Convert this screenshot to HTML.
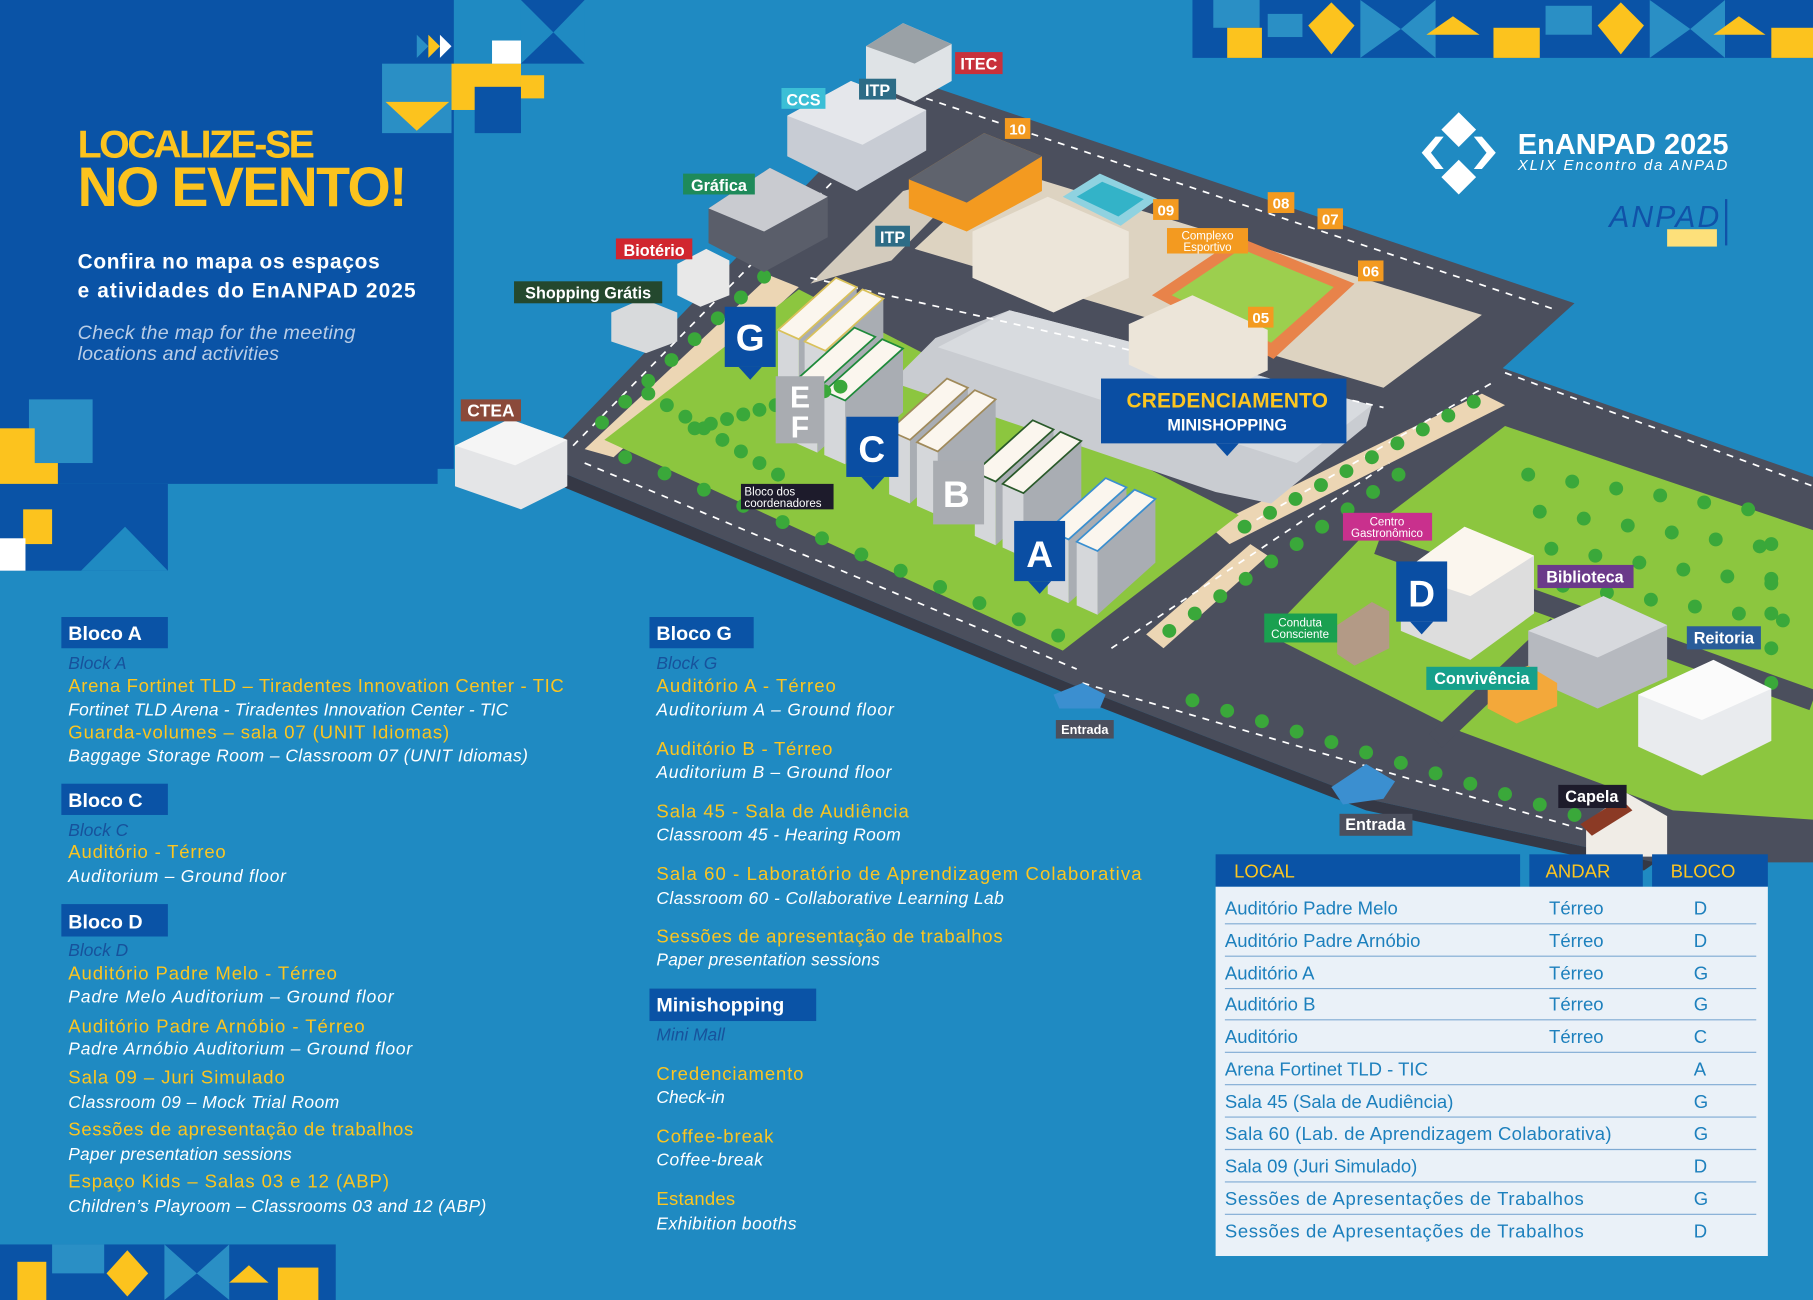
<!DOCTYPE html>
<html><head><meta charset="utf-8"><style>
html,body{margin:0;padding:0;background:#1f8ac2;overflow:hidden}
svg{display:block}
text{font-family:"Liberation Sans",sans-serif}
.y{fill:#fcc520;font-size:16px}
.w{fill:#fff;font-size:15px;font-style:italic}
.b{fill:#17529c;font-size:15px;font-style:italic}
.h{fill:#fff;font-size:17px;font-weight:bold}
.lb{fill:#fff;font-weight:bold}
.t{fill:#1d80bd;font-size:16px}
</style></head><body>
<svg id="s" width="1813" height="1300" viewBox="0 0 1566 1123" preserveAspectRatio="none" xmlns="http://www.w3.org/2000/svg">
<rect width="1566" height="1123" fill="#1f8ac2"/>
<polygon points="0,0 392,0 392,405 378,405 378,418 0,418" fill="#0a53a6"/>
<g>
<rect x="450" y="0" width="55" height="55" fill="#1f8ac2"/>
<polygon points="450,0 505,0 478,28" fill="#0a53a6"/>
<polygon points="478,28 505,55 450,55" fill="#0a53a6"/>
<rect x="330" y="55" width="60" height="60" fill="#2a8fc5"/>
<polygon points="333,88 388,88 360,113" fill="#fcc31e"/>
<rect x="390" y="55" width="60" height="40" fill="#fcc31e"/>
<rect x="410" y="75" width="40" height="40" fill="#0a53a6"/>
<rect x="425" y="35" width="25" height="20" fill="#fff"/>
<rect x="450" y="65" width="20" height="20" fill="#fcc31e"/>
<polygon points="360,30 370,40 360,50" fill="#2a8fc5"/><polygon points="370,30 380,40 370,50" fill="#fcc31e"/><polygon points="380,30 390,40 380,50" fill="#fff"/>
</g>
<g>
<rect x="25" y="345" width="55" height="55" fill="#2a8fc5"/>
<rect x="0" y="370" width="30" height="50" fill="#fcc31e"/>
<rect x="0" y="400" width="50" height="20" fill="#fcc31e"/>
<rect x="0" y="418" width="145" height="75" fill="#0a53a6"/>
<rect x="20" y="440" width="25" height="30" fill="#fcc31e"/>
<rect x="0" y="465" width="22" height="28" fill="#fff"/>
<polygon points="70,493 108,455 145,493" fill="#1f8ac2"/>
</g>
<g>
<rect x="1030" y="0" width="536" height="50" fill="#0a53a6"/>
<rect x="1048" y="0" width="40" height="24" fill="#2a8fc5"/>
<rect x="1060" y="24" width="30" height="26" fill="#fcc31e"/>
<rect x="1095" y="12" width="30" height="20" fill="#2a8fc5"/>
<polygon points="1130,22 1150,2 1170,22 1150,47" fill="#fcc31e"/>
<polygon points="1175,0 1210,25 1175,50" fill="#2a8fc5"/><polygon points="1240,0 1210,25 1240,50" fill="#2a8fc5"/>
<polygon points="1232,30 1255,14 1278,30" fill="#fcc31e"/>
<rect x="1290" y="24" width="40" height="26" fill="#fcc31e"/>
<rect x="1335" y="5" width="40" height="25" fill="#2a8fc5"/>
<polygon points="1380,22 1400,2 1420,22 1400,47" fill="#fcc31e"/>
<polygon points="1425,0 1460,25 1425,50" fill="#2a8fc5"/><polygon points="1490,0 1460,25 1490,50" fill="#2a8fc5"/>
<polygon points="1480,30 1502,14 1525,30" fill="#fcc31e"/>
<rect x="1530" y="24" width="36" height="26" fill="#fcc31e"/>
</g>
<g>
<rect x="0" y="1075" width="290" height="48" fill="#0a53a6"/>
<rect x="15" y="1090" width="25" height="33" fill="#fcc31e"/>
<rect x="45" y="1075" width="45" height="25" fill="#2a8fc5"/>
<polygon points="92,1100 110,1080 128,1100 110,1120" fill="#fcc31e"/>
<polygon points="142,1075 170,1100 142,1123" fill="#2a8fc5"/><polygon points="198,1075 170,1100 198,1123" fill="#2a8fc5"/>
<polygon points="198,1108 215,1093 232,1108" fill="#fcc31e"/>
<rect x="240" y="1095" width="35" height="28" fill="#fcc31e"/>
</g>

<g>
<polygon points="470,395 785,68 1360,262 1298,318 1566,412 1566,745 1430,745 1180,690 935,595 490,410" fill="#4b4f5d"/>
<polygon points="490,410 935,595 1180,690 1430,745 1420,752 1180,700 935,605 480,418" fill="#353845"/>
<polygon points="505,388 665,238 690,248 530,395" fill="#ecd6b4"/>
<polygon points="1045,455 1280,340 1300,350 1062,470" fill="#ecd6b4"/>
<polygon points="990,548 1080,470 1095,480 1005,560" fill="#ecd6b4"/>
<polygon points="522,380 690,250 1070,445 918,562" fill="#8cc63f"/>
<polygon points="790,215 865,145 1280,272 1195,335" fill="#ddd3c1"/>
<polygon points="700,245 780,165 845,148 770,225" fill="#d3cbbd"/>
<polygon points="995,255 1070,205 1170,245 1100,310" fill="#e8834a"/>
<polygon points="1012,255 1072,215 1152,248 1098,296" fill="#9ccf4e"/>
<polygon points="918,170 950,150 1000,172 968,195" fill="#8fd2e0"/>
<polygon points="930,170 952,157 988,172 966,187" fill="#33b3c8"/>
<polygon points="808,292 872,268 1185,350 1180,368 1098,435 1050,425 770,330" fill="#c9ccd1"/>
<polygon points="872,268 1185,350 1120,400 810,300" fill="#d8dbdf"/>
<polygon points="1095,548 1185,455 1300,368 1566,458 1566,708 1445,700 1262,632" fill="#8cc63f"/>
<line x1="1190" y1="470" x2="1566" y2="605" stroke="#4b4f5d" stroke-width="18"/>
<line x1="1240" y1="640" x2="1345" y2="540" stroke="#4b4f5d" stroke-width="16"/>
<g stroke="#fff" stroke-width="1.5" stroke-dasharray="6,6" fill="none">
<line x1="505" y1="400" x2="930" y2="578"/>
<line x1="935" y1="590" x2="1430" y2="735"/>
<line x1="495" y1="385" x2="790" y2="85"/>
<line x1="800" y1="85" x2="1345" y2="268"/>
<line x1="700" y1="240" x2="1195" y2="352"/>
<line x1="1075" y1="455" x2="1290" y2="330"/>
<line x1="960" y1="560" x2="1200" y2="400"/>
<line x1="1300" y1="322" x2="1566" y2="420"/>
</g>
</g>
<g id="bld"></g>
<g id="trees"></g>
<g>
<polygon points="393,385 440,362 490,380 490,420 450,440 393,420" fill="#e4e5e7"/><polygon points="393,385 440,362 490,380 445,402" fill="#f5f5f5"/>
<polygon points="748,40 780,20 822,38 822,70 790,88 748,70" fill="#dfe3e6"/><polygon points="748,40 780,20 822,38 790,55" fill="#9aa1a6"/>
<polygon points="680,100 735,70 800,95 800,130 740,165 680,135" fill="#c8ccd4"/><polygon points="680,100 735,70 800,95 745,125" fill="#e5e7eb"/>
<polygon points="612,180 665,145 715,170 715,205 660,235 612,210" fill="#5a5e6a"/><polygon points="612,180 665,145 715,170 660,200" fill="#c9cbd0"/>
<polygon points="585,228 610,215 630,225 630,255 605,265 585,255" fill="#e8e8e8"/>
<polygon points="528,270 555,258 585,270 585,295 558,305 528,295" fill="#d8dadc"/>
<polygon points="785,155 850,115 900,135 900,165 835,200 785,180" fill="#f39a20"/><polygon points="785,155 850,115 900,135 835,175" fill="#5f636d"/>
<polygon points="840,200 905,170 975,200 975,240 910,270 840,240" fill="#ece5d9"/>
<polygon points="975,280 1030,255 1095,285 1095,320 1040,345 975,315" fill="#ece5d9"/>
<polygon points="1320,545 1385,515 1440,540 1440,585 1380,612 1320,585" fill="#b6b9bf"/><polygon points="1320,545 1385,515 1440,540 1380,568" fill="#d7d9dd"/>
<polygon points="1415,600 1480,570 1530,595 1530,640 1470,670 1415,645" fill="#e9ebee"/><polygon points="1415,600 1480,570 1530,595 1470,622" fill="#fbfbfb"/>
<polygon points="1210,495 1265,455 1325,480 1325,530 1270,570 1210,545" fill="#ddd"/><polygon points="1210,495 1265,455 1325,480 1270,515" fill="#fbf6ee"/>
<polygon points="1155,540 1185,520 1200,528 1200,560 1170,575 1155,565" fill="#b39a86"/>
<polygon points="1285,590 1320,575 1345,590 1345,610 1310,625 1285,612" fill="#f3a83a"/>
<polygon points="1370,710 1405,685 1440,705 1440,740 1370,740" fill="#f0ece6"/><polygon points="1365,712 1400,690 1410,700 1375,722" fill="#8b3a25"/>
<polygon points="910,600 935,590 955,600 950,612 915,612" fill="#3b8fd0"/>
<polygon points="1150,680 1180,660 1205,675 1195,690 1160,695" fill="#3b8fd0"/>
</g>
<g font-size="14">
<rect x="825" y="45" width="41" height="19" fill="#c8313b"/><text x="845.5" y="60" class="lb" text-anchor="middle">ITEC</text>
<rect x="742" y="68" width="32" height="18" fill="#2d6c86"/><text x="758" y="83" class="lb" text-anchor="middle">ITP</text>
<rect x="675" y="76" width="38" height="18" fill="#3bbfd6"/><text x="694" y="91" class="lb" text-anchor="middle">CCS</text>
<rect x="868" y="102" width="22" height="18" fill="#f39a20"/><text x="879" y="116" class="lb" text-anchor="middle" font-size="13">10</text>
<rect x="590" y="150" width="62" height="18" fill="#1e8a5a"/><text x="621" y="165" class="lb" text-anchor="middle">Gráfica</text>
<rect x="996" y="172" width="22" height="18" fill="#f39a20"/><text x="1007" y="186" class="lb" text-anchor="middle" font-size="13">09</text>
<rect x="1095" y="166" width="23" height="18" fill="#f39a20"/><text x="1106.5" y="180" class="lb" text-anchor="middle" font-size="13">08</text>
<rect x="1138" y="180" width="22" height="18" fill="#f39a20"/><text x="1149" y="194" class="lb" text-anchor="middle" font-size="13">07</text>
<rect x="1173" y="225" width="22" height="18" fill="#f39a20"/><text x="1184" y="239" class="lb" text-anchor="middle" font-size="13">06</text>
<rect x="1078" y="265" width="22" height="18" fill="#f39a20"/><text x="1089" y="279" class="lb" text-anchor="middle" font-size="13">05</text>
<rect x="1008" y="197" width="70" height="22" fill="#f39a20"/><text x="1043" y="207" fill="#fff" font-size="10" text-anchor="middle">Complexo</text><text x="1043" y="217" fill="#fff" font-size="10" text-anchor="middle">Esportivo</text>
<rect x="532" y="206" width="66" height="18" fill="#d1262f"/><text x="565" y="221" class="lb" text-anchor="middle">Biotério</text>
<rect x="756" y="195" width="30" height="18" fill="#2d6c86"/><text x="771" y="210" class="lb" text-anchor="middle">ITP</text>
<rect x="444" y="243" width="128" height="19" fill="#24482e"/><text x="508" y="258" class="lb" text-anchor="middle">Shopping Grátis</text>
<rect x="398" y="345" width="52" height="19" fill="#8b4a3a"/><text x="424" y="360" class="lb" text-anchor="middle" font-size="15">CTEA</text>
<g fill="#0a4ea3"><rect x="626" y="265" width="44" height="52"/><polygon points="638,317 658,317 648,328"/></g><text x="648" y="303" class="lb" font-size="32" text-anchor="middle">G</text>
<g fill="#a9acb1"><rect x="670" y="325" width="42" height="58"/></g><text x="691" y="352" class="lb" font-size="26" text-anchor="middle">E</text><text x="691" y="378" class="lb" font-size="26" text-anchor="middle">F</text>
<g fill="#0a4ea3"><rect x="731" y="360" width="45" height="52"/><polygon points="744,412 764,412 754,423"/></g><text x="753" y="399" class="lb" font-size="32" text-anchor="middle">C</text>
<g fill="#a9acb1"><rect x="806" y="398" width="44" height="55"/></g><text x="826" y="438" class="lb" font-size="32" text-anchor="middle">B</text>
<g fill="#0a4ea3"><rect x="876" y="450" width="44" height="52"/><polygon points="888,502 908,502 898,513"/></g><text x="898" y="490" class="lb" font-size="32" text-anchor="middle">A</text>
<g fill="#0a4ea3"><rect x="1206" y="485" width="44" height="52"/><polygon points="1218,537 1238,537 1228,548"/></g><text x="1228" y="524" class="lb" font-size="32" text-anchor="middle">D</text>
<rect x="640" y="418" width="80" height="22" fill="#1d1b2b"/><text x="643" y="428" fill="#fff" font-size="10">Bloco dos</text><text x="643" y="438" fill="#fff" font-size="10">coordenadores</text>
<rect x="951" y="327" width="212" height="56" fill="#0a4ea3"/><polygon points="1050,383 1070,383 1060,394" fill="#0a4ea3"/>
<text x="1060" y="352" fill="#fcc520" font-size="18" font-weight="bold" text-anchor="middle" textLength="174">CREDENCIAMENTO</text>
<text x="1060" y="372" fill="#fff" font-size="14" font-weight="bold" text-anchor="middle">MINISHOPPING</text>
<rect x="1160" y="443" width="77" height="24" fill="#c9308d"/><text x="1198" y="454" fill="#fff" font-size="10" text-anchor="middle">Centro</text><text x="1198" y="464" fill="#fff" font-size="10" text-anchor="middle">Gastronômico</text>
<rect x="1328" y="488" width="83" height="20" fill="#6b3a8a"/><text x="1369" y="503" class="lb" text-anchor="middle">Biblioteca</text>
<rect x="1092" y="530" width="63" height="25" fill="#1aa050"/><text x="1123" y="541" fill="#fff" font-size="10" text-anchor="middle">Conduta</text><text x="1123" y="551" fill="#fff" font-size="10" text-anchor="middle">Consciente</text>
<rect x="1457" y="541" width="64" height="20" fill="#2a5d9a"/><text x="1489" y="556" class="lb" text-anchor="middle">Reitoria</text>
<rect x="1232" y="576" width="96" height="20" fill="#16a08a"/><text x="1280" y="591" class="lb" text-anchor="middle">Convivência</text>
<rect x="912" y="622" width="50" height="16" fill="#4b4f5d"/><text x="937" y="634" class="lb" font-size="11" text-anchor="middle">Entrada</text>
<rect x="1157" y="703" width="63" height="19" fill="#4b4f5d"/><text x="1188" y="717" class="lb" text-anchor="middle">Entrada</text>
<rect x="1346" y="678" width="59" height="20" fill="#1d1b2b"/><text x="1375" y="693" class="lb" text-anchor="middle">Capela</text>
</g>

<g fill="#fff">
<polygon points="1260,97 1275,112 1260,127 1245,112"/>
<polygon points="1260,138 1275,153 1260,168 1245,153"/>
<polygon points="1240,118 1228,132 1240,146 1247,146 1236,132 1247,118"/>
<polygon points="1280,118 1292,132 1280,146 1273,146 1284,132 1273,118"/>
</g>
<text x="1311" y="133" fill="#fff" font-size="25" font-weight="bold" textLength="182">EnANPAD 2025</text>
<text x="1311" y="147" fill="#fff" font-size="13" font-style="italic" textLength="181">XLIX Encontro da ANPAD</text>
<text x="1390" y="196" fill="#1052a8" font-size="26" font-style="italic" textLength="95">ANPAD</text>
<rect x="1440" y="198" width="43" height="15" fill="#fde07a"/>
<rect x="1490" y="172" width="2" height="40" fill="#1052a8"/>

<text x="67" y="136" fill="#fcc31e" font-size="34" font-weight="bold" textLength="205">LOCALIZE-SE</text>
<text x="67" y="178" fill="#fcc31e" font-size="48" font-weight="bold" textLength="285">NO EVENTO!</text>
<text x="67" y="232" fill="#fff" font-size="18" font-weight="bold" textLength="261">Confira no mapa os espaços</text>
<text x="67" y="257" fill="#fff" font-size="18" font-weight="bold" textLength="292">e atividades do EnANPAD 2025</text>
<text x="67" y="293" fill="#b9cde6" font-size="17" font-style="italic" textLength="240">Check the map for the meeting</text>
<text x="67" y="311" fill="#b9cde6" font-size="17" font-style="italic" textLength="174">locations and activities</text>

<rect x="53" y="533" width="92" height="27" fill="#0a53a6"/><text x="59" y="553" class="h">Bloco A</text>
<text x="59" y="578" class="b">Block A</text>
<text x="59" y="598" class="y" textLength="428">Arena Fortinet TLD – Tiradentes Innovation Center - TIC</text>
<text x="59" y="618" class="w" textLength="380">Fortinet TLD Arena - Tiradentes Innovation Center - TIC</text>
<text x="59" y="638" class="y" textLength="329">Guarda-volumes – sala 07 (UNIT Idiomas)</text>
<text x="59" y="658" class="w" textLength="397">Baggage Storage Room – Classroom 07 (UNIT Idiomas)</text>
<rect x="53" y="677" width="92" height="27" fill="#0a53a6"/><text x="59" y="697" class="h">Bloco C</text>
<text x="59" y="722" class="b">Block C</text>
<text x="59" y="741" class="y" textLength="136">Auditório - Térreo</text>
<text x="59" y="762" class="w" textLength="188">Auditorium – Ground floor</text>
<rect x="53" y="781" width="92" height="28" fill="#0a53a6"/><text x="59" y="802" class="h">Bloco D</text>
<text x="59" y="826" class="b">Block D</text>
<text x="59" y="846" class="y" textLength="232">Auditório Padre Melo - Térreo</text>
<text x="59" y="866" class="w" textLength="281">Padre Melo Auditorium  – Ground floor</text>
<text x="59" y="892" class="y" textLength="256">Auditório Padre Arnóbio - Térreo</text>
<text x="59" y="911" class="w" textLength="297">Padre Arnóbio Auditorium – Ground floor</text>
<text x="59" y="936" class="y" textLength="187">Sala 09  – Juri Simulado</text>
<text x="59" y="957" class="w" textLength="234">Classroom 09 – Mock Trial Room</text>
<text x="59" y="981" class="y" textLength="298">Sessões de apresentação de trabalhos</text>
<text x="59" y="1002" class="w" textLength="193">Paper presentation sessions</text>
<text x="59" y="1026" class="y" textLength="277">Espaço Kids –  Salas 03 e 12 (ABP)</text>
<text x="59" y="1047" class="w" textLength="361">Children’s Playroom – Classrooms 03 and 12 (ABP)</text>

<rect x="561" y="533" width="90" height="27" fill="#0a53a6"/><text x="567" y="553" class="h">Bloco G</text>
<text x="567" y="578" class="b">Block G</text>
<text x="567" y="598" class="y" textLength="155">Auditório A - Térreo</text>
<text x="567" y="618" class="w" textLength="205">Auditorium A – Ground floor</text>
<text x="567" y="652" class="y" textLength="152">Auditório B - Térreo</text>
<text x="567" y="672" class="w" textLength="203">Auditorium B – Ground floor</text>
<text x="567" y="706" class="y" textLength="218">Sala 45 - Sala de Audiência</text>
<text x="567" y="726" class="w" textLength="211">Classroom 45 - Hearing Room</text>
<text x="567" y="760" class="y" textLength="419">Sala 60 - Laboratório de Aprendizagem Colaborativa</text>
<text x="567" y="781" class="w" textLength="300">Classroom 60 - Collaborative Learning Lab</text>
<text x="567" y="814" class="y" textLength="299">Sessões de apresentação de trabalhos</text>
<text x="567" y="834" class="w" textLength="193">Paper presentation sessions</text>
<rect x="561" y="854" width="144" height="28" fill="#0a53a6"/><text x="567" y="874" class="h">Minishopping</text>
<text x="567" y="899" class="b">Mini Mall</text>
<text x="567" y="933" class="y" textLength="127">Credenciamento</text>
<text x="567" y="953" class="w" textLength="59">Check-in</text>
<text x="567" y="987" class="y" textLength="101">Coffee-break</text>
<text x="567" y="1007" class="w" textLength="92">Coffee-break</text>
<text x="567" y="1041" class="y" textLength="68">Estandes</text>
<text x="567" y="1062" class="w" textLength="121">Exhibition booths</text>

<rect x="1050" y="738" width="263" height="28" fill="#0a53a6"/>
<rect x="1321" y="738" width="98" height="28" fill="#0a53a6"/>
<rect x="1427" y="738" width="100" height="28" fill="#0a53a6"/>
<text x="1066" y="758" fill="#fcc520" font-size="16">LOCAL</text>
<text x="1335" y="758" fill="#fcc520" font-size="16">ANDAR</text>
<text x="1443" y="758" fill="#fcc520" font-size="16">BLOCO</text>
<rect x="1050" y="766" width="477" height="319" fill="#eaf1f8"/>
<g stroke="#7eaad3" stroke-width="1">
<line x1="1058" y1="798" x2="1517" y2="798"/><line x1="1058" y1="826" x2="1517" y2="826"/><line x1="1058" y1="854" x2="1517" y2="854"/><line x1="1058" y1="881" x2="1517" y2="881"/><line x1="1058" y1="909" x2="1517" y2="909"/><line x1="1058" y1="937" x2="1517" y2="937"/><line x1="1058" y1="965" x2="1517" y2="965"/><line x1="1058" y1="993" x2="1517" y2="993"/><line x1="1058" y1="1021" x2="1517" y2="1021"/><line x1="1058" y1="1049" x2="1517" y2="1049"/>
</g>
<g>
<text x="1058" y="790" class="t">Auditório Padre Melo</text><text x="1338" y="790" class="t">Térreo</text><text x="1463" y="790" class="t">D</text>
<text x="1058" y="818" class="t">Auditório Padre Arnóbio</text><text x="1338" y="818" class="t">Térreo</text><text x="1463" y="818" class="t">D</text>
<text x="1058" y="846" class="t">Auditório A</text><text x="1338" y="846" class="t">Térreo</text><text x="1463" y="846" class="t">G</text>
<text x="1058" y="873" class="t">Auditório B</text><text x="1338" y="873" class="t">Térreo</text><text x="1463" y="873" class="t">G</text>
<text x="1058" y="901" class="t">Auditório</text><text x="1338" y="901" class="t">Térreo</text><text x="1463" y="901" class="t">C</text>
<text x="1058" y="929" class="t">Arena Fortinet TLD - TIC</text><text x="1463" y="929" class="t">A</text>
<text x="1058" y="957" class="t">Sala 45 (Sala de Audiência)</text><text x="1463" y="957" class="t">G</text>
<text x="1058" y="985" class="t" textLength="334">Sala 60 (Lab. de Aprendizagem Colaborativa)</text><text x="1463" y="985" class="t">G</text>
<text x="1058" y="1013" class="t">Sala 09 (Juri Simulado)</text><text x="1463" y="1013" class="t">D</text>
<text x="1058" y="1041" class="t" textLength="310">Sessões de Apresentações de Trabalhos</text><text x="1463" y="1041" class="t">G</text>
<text x="1058" y="1069" class="t" textLength="310">Sessões de Apresentações de Trabalhos</text><text x="1463" y="1069" class="t">D</text>
</g>
</svg>
<script>
(function(){
var NS="http://www.w3.org/2000/svg";
function poly(g,pts,fill,stroke){var p=document.createElementNS(NS,"polygon");p.setAttribute("points",pts.map(function(a){return a[0]+","+a[1]}).join(" "));p.setAttribute("fill",fill);if(stroke){p.setAttribute("stroke",stroke);p.setAttribute("stroke-width","1.5");}g.appendChild(p);}
var g=document.getElementById("bld");
function box(x,y,rim){var L=[50,-45],W=[18,8],H=55;
var A=[x,y],B=[x+L[0],y+L[1]],C=[B[0]+W[0],B[1]+W[1]],D=[x+W[0],y+W[1]];
poly(g,[D,C,[C[0],C[1]+H],[D[0],D[1]+H]],"#a9adb3");
poly(g,[A,D,[D[0],D[1]+H],[A[0],A[1]+H]],"#d5d7da");
poly(g,[A,B,C,D],"#fbf6ee",rim);}
[[672,285,"#d9c15a"],[695,295,"#d9c15a"],[688,328,"#1e8a3a"],[712,338,"#1e8a3a"],[768,372,"#a08a5a"],[792,382,"#a08a5a"],[842,408,"#2a5a2a"],[866,418,"#2a5a2a"],[905,458,"#3a8fd0"],[930,468,"#3a8fd0"]].forEach(function(b){box(b[0],b[1],b[2]);});
var t=document.getElementById("trees");
function tree(x,y){var c=document.createElementNS(NS,"circle");c.setAttribute("cx",x);c.setAttribute("cy",y);c.setAttribute("r",6);c.setAttribute("fill","#3aa83a");t.appendChild(c);}
var i;
for(i=0;i<12;i++)tree(540+i*34,395+i*14);
for(i=0;i<8;i++)tree(560+i*16,340+i*10);
for(i=0;i<10;i++)tree(600+i*14,370-i*4);
for(i=0;i<8;i++)tree(520+i*20,365-i*18);
for(i=0;i<10;i++)tree(1075+i*22,455-i*12);
for(i=0;i<10;i++)tree(1010+i*22,545-i*15);
for(i=0;i<12;i++)tree(1030+i*30,605+i*9);
for(i=0;i<6;i++)for(var j=0;j<4;j++)tree(1320+i*38+j*10,410+j*32+i*6);
for(i=0;i<5;i++)tree(1530,470+i*30);
})();
</script>
</body></html>
